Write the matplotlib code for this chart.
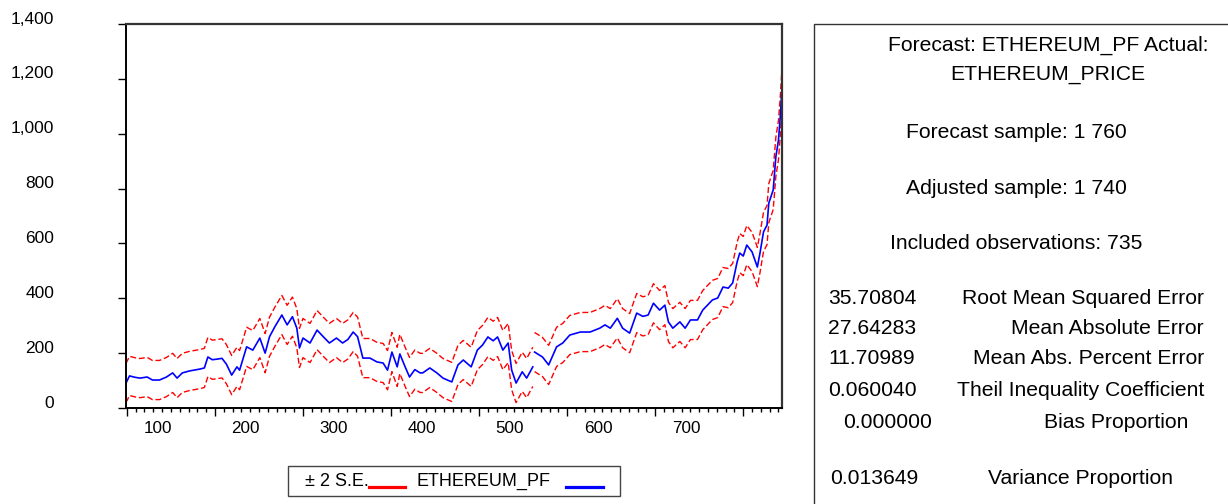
import numpy as np
import matplotlib
matplotlib.use("Agg")
import matplotlib.pyplot as plt
from matplotlib import transforms
from matplotlib.lines import Line2D
from matplotlib.patches import Rectangle

plt.rcParams['font.family'] = ['Liberation Sans', 'DejaVu Sans']
plt.rcParams['lines.scale_dashes'] = False

# forecast ETHEREUM_PF (obs number, value); nan = break in the series
obs = [64, 68, 74, 80, 88, 94, 102, 110, 117, 122, 128, 136, 148, 153, 157, 162,
       167, 173, 178, 184, 190, 193, 201, 208, 216, 222, 227, 233, 241, 247, 253,
       258, 261, 265, 273, 281, 288, 295, 303, 310, 316, 322, 327, 333, 341, 349,
       356, 361, 366, 372, 375, 381, 386, 392, 398, 401, 409, 417, 424, 434, 441,
       447, 456, 463, 469, 475, 481, 486, 492, 498, 502, 507, 514, 519, 526, 527,
       528, 537, 544, 553, 560, 568, 580, 591, 602, 608, 614, 622, 628, 636, 644,
       651, 657, 663, 670, 676, 680, 685, 693, 699, 705, 713, 719, 730, 736, 742,
       748, 753, 758, 761, 765, 769, 775, 781, 784, 788, 792, 794, 799, 802, 805,
       807, 809]
pf = [91, 117, 112, 109, 113, 102, 102, 113, 128, 109, 128, 135, 142, 146, 186, 176,
      178, 181, 160, 120, 150, 138, 223, 211, 255, 200, 260, 296, 339, 303, 333,
      291, 219, 255, 237, 284, 260, 237, 255, 237, 250, 277, 260, 182, 182, 168,
      164, 138, 204, 150, 197, 150, 113, 140, 128, 128, 146, 128, 109, 95, 157,
      175, 150, 211, 230, 259, 245, 259, 211, 237, 138, 91, 132, 109, 150, np.nan,
      204, 186, 157, 223, 237, 266, 277, 277, 291, 303, 291, 327, 291, 273, 346,
      334, 339, 382, 357, 375, 314, 291, 314, 291, 321, 321, 357, 394, 401, 441,
      437, 456, 532, 565, 554, 594, 569, 514, 565, 642, 667, 747, 795, 915, 977,
      1061, 1167]
se = 35.7  # forecast standard error

y_ticks = [0, 200, 400, 600, 800, 1000, 1200, 1400]
y_labels = ["0", "200", "400", "600", "800", "1,000", "1,200", "1,400"]
x_labels = [100, 200, 300, 400, 500, 600, 700]

stat_values = ["35.70804", "27.64283", "11.70989", "0.060040", "0.000000", "0.013649"]
stat_names = ["Root Mean Squared Error", "Mean Absolute Error", "Mean Abs. Percent Error",
              "Theil Inequality Coefficient", "Bias Proportion", "Variance Proportion"]

W, H = 1228, 504
fig = plt.figure(figsize=(W / 100, H / 100), dpi=100)


def fx(px):
    return px / W


def fy(py):
    return 1 - py / H


ax = fig.add_axes([fx(126), fy(408), (782 - 126) / W, (408 - 24) / H])

x = np.array(obs, dtype=float)
y = np.array(pf, dtype=float)
dash = (0, (4.3, 2.0))
ax.plot(x, y + 2 * se, color='#ff0000', lw=1.0, linestyle=dash)
ax.plot(x, y - 2 * se, color='#ff0000', lw=1.0, linestyle=dash)
ax.plot(x, y, color='#0000ff', lw=1.2)

ax.set_xlim(64, 809)
ax.set_ylim(0, 1400)

# axis frame
for s in ['left', 'bottom']:
    ax.spines[s].set_color('black')
    ax.spines[s].set_linewidth(1.4)
for s in ['top', 'right']:
    ax.spines[s].set_color('#333333')
    ax.spines[s].set_linewidth(1.6)

# y ticks, labels sit a bit above the tick marks
ax.set_yticks(y_ticks)
ax.set_yticklabels([])
ax.tick_params(axis='y', direction='out', length=5.5, width=1)
ylab_tr = transforms.offset_copy(
    transforms.blended_transform_factory(fig.transFigure, ax.transData),
    fig=fig, y=5, units='dots')
for v, lab in zip(y_ticks, y_labels):
    ax.text(fx(54), v, lab, transform=ylab_tr, ha='right', va='center', fontsize=12.5)

# x ticks: long every 100 from 65, short every 10
major = np.arange(65, 806, 100)
minor = [v for v in range(75, 806, 10) if (v - 65) % 100]
ax.set_xticks(major)
ax.set_xticklabels([])
ax.set_xticks(minor, minor=True)
ax.tick_params(axis='x', which='major', direction='out', length=5.5, width=1)
ax.tick_params(axis='x', which='minor', direction='out', length=3, width=1)

sec = ax.secondary_xaxis('bottom')
sec.set_xticks(x_labels)
sec.set_xticklabels([str(v) for v in x_labels])
sec.tick_params(length=0, pad=9.5, labelsize=12.3)
sec.spines['bottom'].set_visible(False)

# legend box
fig.add_artist(Rectangle((fx(288), fy(496)), (620 - 288) / W, (496 - 466) / H,
                         transform=fig.transFigure, fill=False, ec='#444444', lw=1))
fig.text(fx(305), fy(481), "± 2 S.E.", ha='left', va='center', fontsize=13)
fig.add_artist(Line2D([fx(369), fx(405)], [fy(487), fy(487)], transform=fig.transFigure,
                      color='#ff0000', lw=2.3))
fig.text(fx(416), fy(481), "ETHEREUM_PF", ha='left', va='center', fontsize=13)
fig.add_artist(Line2D([fx(566), fx(603)], [fy(487), fy(487)], transform=fig.transFigure,
                      color='#0000ff', lw=2.3))

# forecast evaluation panel
fig.add_artist(Rectangle((fx(814), fy(530)), (1260 - 814) / W, (530 - 24) / H,
                         transform=fig.transFigure, fill=False, ec='#333333', lw=1))
fs = 15.2
fig.text(fx(1048), fy(45), "Forecast: ETHEREUM_PF Actual:", ha='center', va='center', fontsize=fs)
fig.text(fx(1048), fy(75), "ETHEREUM_PRICE", ha='center', va='center', fontsize=fs)
fig.text(fx(1016), fy(133), "Forecast sample: 1 760", ha='center', va='center', fontsize=fs)
fig.text(fx(1016), fy(188), "Adjusted sample: 1 740", ha='center', va='center', fontsize=fs)
fig.text(fx(1016), fy(243), "Included observations: 735", ha='center', va='center', fontsize=fs)

rows_y = [298, 328, 359, 390, 423, 479]
val_x = [828, 828, 828, 828, 843, 830]
for i in range(6):
    fig.text(fx(val_x[i]), fy(rows_y[i]), stat_values[i], ha='left', va='center', fontsize=fs)
for i in range(4):
    fig.text(fx(1204), fy(rows_y[i]), stat_names[i], ha='right', va='center', fontsize=fs)
fig.text(fx(1188), fy(rows_y[4]), stat_names[4], ha='right', va='center', fontsize=fs)
fig.text(fx(1081), fy(rows_y[5]), stat_names[5], ha='center', va='center', fontsize=fs)

fig.savefig("out.png", dpi=100)
